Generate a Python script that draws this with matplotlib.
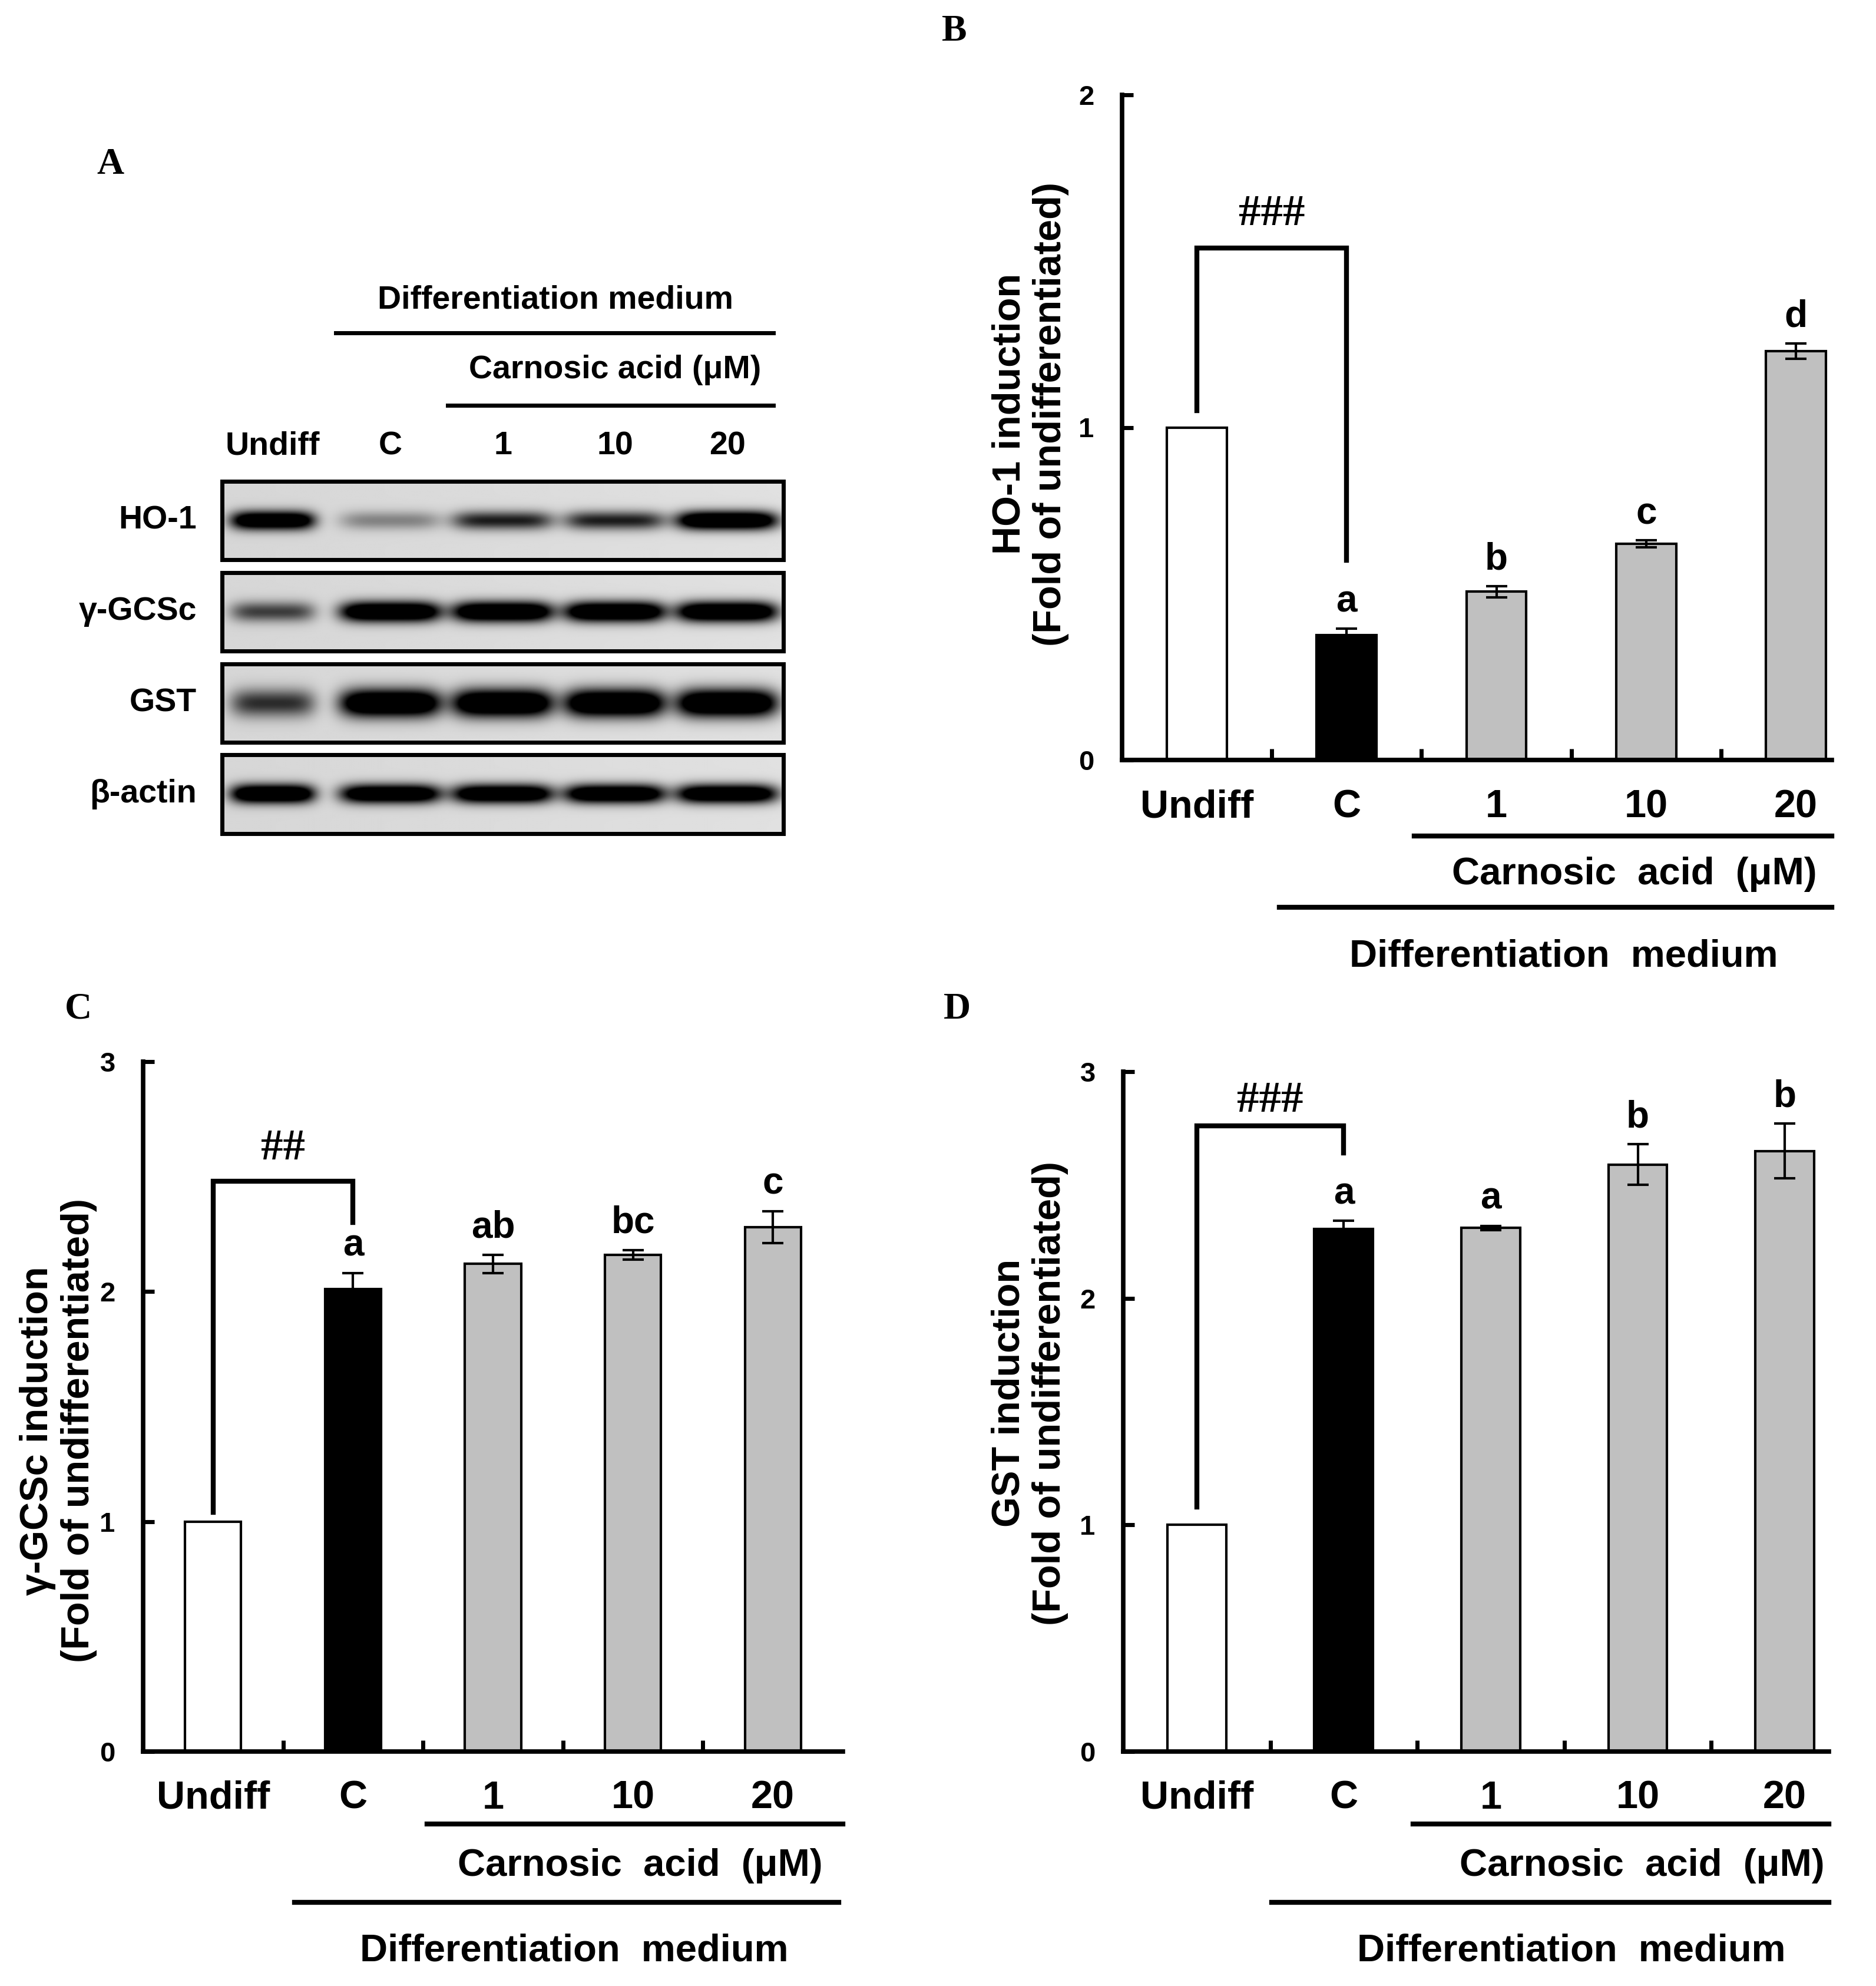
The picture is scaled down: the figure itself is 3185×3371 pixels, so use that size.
"""Carnosic acid / differentiation: western blot and fold-induction bar charts."""
import numpy as np
import matplotlib.pyplot as plt
from matplotlib.patches import Rectangle
from matplotlib.transforms import blended_transform_factory

plt.rcParams["font.family"] = ["Liberation Sans", "DejaVu Sans"]
plt.rcParams["font.weight"] = "bold"
plt.rcParams["axes.labelweight"] = "bold"

# ---- data ----
groups = ["Undiff", "C", "1", "10", "20"]
bar_colors = ["white", "black", "#c0c0c0", "#c0c0c0", "#c0c0c0"]

ho1_mean = [1.00, 0.375, 0.506, 0.65, 1.23]
ho1_err = [0.0, 0.02, 0.017, 0.01, 0.023]
ho1_letters = ["", "a", "b", "c", "d"]

gcs_mean = [1.00, 2.01, 2.12, 2.16, 2.28]
gcs_err = [0.0, 0.07, 0.04, 0.02, 0.07]
gcs_letters = ["", "a", "ab", "bc", "c"]

gst_mean = [1.00, 2.306, 2.31, 2.59, 2.65]
gst_err = [0.0, 0.035, 0.01, 0.09, 0.12]
gst_letters = ["", "a", "a", "b", "b"]

# western blot band strength per lane (0 = no band, 1 = saturated)
blot_proteins = ["HO-1", "γ-GCSc", "GST", "β-actin"]
ho1_band = [0.95, 0.25, 0.55, 0.55, 1.0]
gcs_band = [0.45, 1.0, 1.0, 1.0, 1.0]
gst_band = [0.5, 1.0, 1.0, 1.0, 1.0]
actin_band = [1.0, 0.95, 0.95, 0.95, 0.95]

W, H = 3185, 3371
fig = plt.figure(figsize=(W / 100, H / 100), dpi=100)


def frac(x0, y0, x1, y1):
    """pixel box (top-left origin) -> figure fraction rect"""
    return [x0 / W, 1 - y1 / H, (x1 - x0) / W, (y1 - y0) / H]


# ---- panel A: blot ----
axa = fig.add_axes(frac(0, 150, 1500, 1500))
axa.set_xlim(0, 1500)
axa.set_ylim(1500, 150)
axa.axis("off")

box_x0, box_x1 = 377, 1330
row_y = [(817, 950), (972, 1105), (1127, 1260), (1281, 1415)]
lane_pos = [0.09, 0.30, 0.50, 0.70, 0.90]
band_thick = [0.12, 0.13, 0.18, 0.12]
band_half = [0.075, 0.09, 0.09, 0.09, 0.09]


def band_image(levels, thick, ny=90, nx=700):
    yy = np.linspace(0, 1, ny)[:, None]
    xx = np.linspace(0, 1, nx)[None, :]
    dark = np.zeros((ny, nx))
    for cx, hw, lv in zip(lane_pos, band_half, levels):
        dark += 1.6 * lv * np.exp(-np.abs((xx - cx) / hw) ** 5) * np.exp(-((yy - 0.5) / thick) ** 2)
    bg = 0.84 + 0.04 * xx
    return bg * (1 - np.clip(dark, 0, 1))


for (y0, y1), name, levels, th in zip(row_y, blot_proteins,
                                      [ho1_band, gcs_band, gst_band, actin_band], band_thick):
    axa.imshow(band_image(levels, th), cmap="gray", vmin=0, vmax=1, aspect="auto",
               extent=(box_x0, box_x1, y1, y0), interpolation="bilinear")
    axa.add_patch(Rectangle((box_x0, y0), box_x1 - box_x0, y1 - y0, fill=False,
                            lw=5, edgecolor="black"))
    axa.text(334, (y0 + y1) / 2, name, ha="right", va="center", fontsize=40)

for cx, g in zip(lane_pos, groups):
    axa.text(box_x0 + cx * (box_x1 - box_x0), 757, g, ha="center", va="center", fontsize=40)

axa.plot([570, 1313], [565, 565], color="black", lw=5)
axa.text(943, 510, "Differentiation medium", ha="center", va="center", fontsize=40)
axa.plot([760, 1313], [688, 688], color="black", lw=5)
axa.text(1044, 628, "Carnosic acid (μM)", ha="center", va="center", fontsize=40)


# ---- bar panels ----
def bar_panel(rect, means, errs, letters, ymax, xmax, ylabel, label_xy,
              bracket, sig, rows, spans):
    ax = fig.add_axes(rect)
    x = np.arange(len(groups))
    ax.bar(x, means, width=0.4, color=bar_colors, edgecolor="black", linewidth=3, zorder=2)
    ax.errorbar(x[1:], means[1:], yerr=errs[1:], fmt="none", ecolor="black",
                elinewidth=3, capsize=13, capthick=3, zorder=3)
    for xi, m, e, lt in zip(x, means, errs, letters):
        if lt:
            ax.text(xi, m + e + 0.025 * ymax, lt, ha="center", va="baseline", fontsize=46)

    # significance bracket Undiff vs C
    yl, ytop, yr = bracket
    sig_text, sig_y = sig
    ax.plot([0, 0, 1, 1], [yl, ytop, ytop, yr], color="black", lw=6,
            solid_joinstyle="miter", zorder=4)
    ax.text(0.5, sig_y, sig_text, ha="center", va="center", fontsize=54,
            family=["Liberation Serif", "DejaVu Serif"], fontweight="bold")

    ax.set_xlim(-0.5, xmax)
    ax.set_ylim(0, ymax)
    ax.set_yticks(np.arange(0, ymax + 1))
    ax.set_yticklabels([str(v) for v in range(ymax + 1)], fontsize=34, fontweight="bold")
    ax.set_xticks(x[:-1] + 0.5)
    ax.set_xticklabels([])
    ax.tick_params(axis="both", direction="in", length=14, width=5)
    ax.tick_params(axis="y", pad=34)
    for s in ["top", "right"]:
        ax.spines[s].set_visible(False)
    for s in ["left", "bottom"]:
        ax.spines[s].set_linewidth(5.5)
    ax.set_ylabel(ylabel, fontsize=48, linespacing=1.15, fontweight="bold")
    ax.yaxis.set_label_coords(*label_xy)

    tr = blended_transform_factory(ax.transData, ax.transAxes)
    y_tick, y_l1, y_t1, y_l2, y_t2 = rows
    (a0, a1), (b0, b1), c_x, d_x = spans
    for xi, g in zip(x, groups):
        ax.text(xi, y_tick, g, transform=tr, ha="center", va="center", fontsize=48,
                clip_on=False)
    ax.plot([a0, a1], [y_l1, y_l1], transform=tr, color="black", lw=6, clip_on=False)
    ax.text(c_x, y_t1, "Carnosic  acid  (μM)", transform=tr, ha="center", va="center",
            fontsize=47)
    ax.plot([b0, b1], [y_l2, y_l2], transform=tr, color="black", lw=6, clip_on=False)
    ax.text(d_x, y_t2, "Differentiation  medium", transform=tr, ha="center", va="center",
            fontsize=47)
    return ax


bar_panel(frac(1905, 161, 3110, 1290), ho1_mean, ho1_err, ho1_letters, 2, 4.24,
          "HO-1 induction\n(Fold of undifferentiated)", (-0.075, 0.52),
          (1.05, 1.54, 0.60), ("###", 1.64),
          (-0.071, -0.114, -0.172, -0.221, -0.295),
          ((1.45, 4.24), (0.55, 4.24), 2.92, 2.45))

bar_panel(frac(243, 1802, 1431, 2973), gcs_mean, gcs_err, gcs_letters, 3, 4.5,
          "γ-GCSc induction\n(Fold of undifferentiated)", (-0.066, 0.465),
          (1.04, 2.48, 2.30), ("##", 2.62),
          (-0.068, -0.105, -0.166, -0.219, -0.289),
          ((1.53, 4.5), (0.58, 4.47), 3.05, 2.58))

bar_panel(frac(1907, 1819, 3105, 2973), gst_mean, gst_err, gst_letters, 3, 4.3,
          "GST induction\n(Fold of undifferentiated)", (-0.078, 0.527),
          (1.08, 2.76, 2.64), ("###", 2.87),
          (-0.069, -0.107, -0.168, -0.222, -0.293),
          ((1.47, 4.3), (0.51, 4.3), 3.03, 2.55))

# panel letters
for lt, px, py in [("A", 187, 280), ("B", 1620, 54), ("C", 133, 1714), ("D", 1625, 1714)]:
    fig.text(px / W, 1 - py / H, lt, ha="center", va="center", fontsize=46,
             family="Liberation Serif", fontweight="bold")

fig.savefig("out.png", dpi=100)
